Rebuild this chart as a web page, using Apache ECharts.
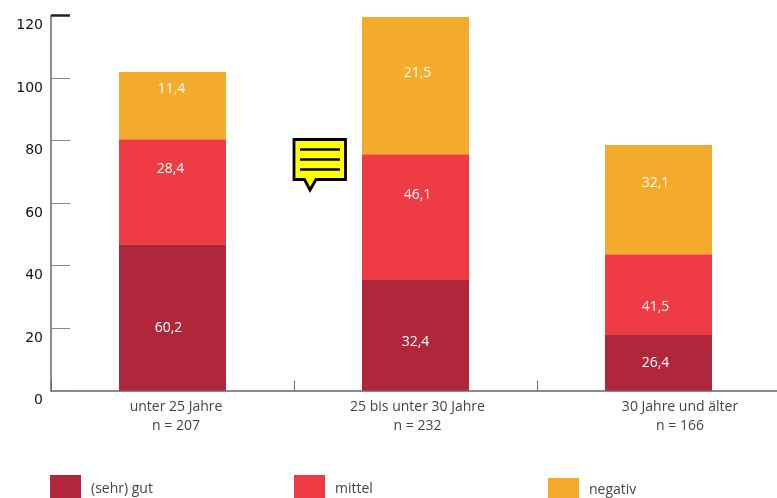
<!DOCTYPE html>
<html>
<head>
<meta charset="utf-8">
<script src="https://cdn.jsdelivr.net/npm/echarts@6/dist/echarts.min.js"></script>
<style>
  html, body { margin: 0; padding: 0; background: #fff; }
  #main { width: 777px; height: 498px; }
</style>
</head>
<body>
<div id="main"></div>
<script>
var categories = ['unter 25 Jahre\nn = 207', '25 bis unter 30 Jahre\nn = 232', '30 Jahre und älter\nn = 166'];
var yTicks = [0, 20, 40, 60, 80, 100, 120];

// bar heights as drawn (they do not agree with the printed numbers in the source)
var gutHeights = [46.9, 35.4, 17.8];
var mittelHeights = [33.6, 40.3, 25.9];
var negativHeights = [21.5, 43.9, 34.9];

// numbers printed on the bars
var gutLabels = ['60,2', '32,4', '26,4'];
var mittelLabels = ['28,4', '46,1', '41,5'];
var negativLabels = ['11,4', '21,5', '32,1'];

// label nudges, px from the segment centre
var gutOffsets = [[-4, 11], [0, 7], [-3, 0]];
var mittelOffsets = [[-2, -23], [2, -22], [-3, 12]];
var negativOffsets = [[-1, -17], [2, -13], [-3, -17]];

var LABEL_FONT = '"Open Sans", "Noto Sans", sans-serif';
var chart = echarts.init(document.getElementById('main'), null, { renderer: 'canvas' });

function barSeries(name, color, heights, labels, offsets) {
  return {
    name: name,
    type: 'bar',
    stack: 'total',
    barWidth: 107,
    itemStyle: { color: color },
    data: heights.map(function (h, i) {
      return {
        value: h,
        label: {
          show: true,
          position: 'inside',
          offset: offsets[i],
          formatter: labels[i],
          color: '#fff',
          fontSize: 14,
          fontFamily: LABEL_FONT
        }
      };
    })
  };
}

function legendItem(name, left, top, h) {
  return {
    data: [name],
    left: left,
    top: top,
    padding: 0,
    icon: 'rect',
    itemWidth: 31,
    itemHeight: h,
    selectedMode: false,
    formatter: '{t|{name}}',
    textStyle: {
      rich: {
        t: { color: '#444', fontSize: 14, fontFamily: LABEL_FONT, padding: [5, 0, 0, 5] }
      }
    }
  };
}

var option = {
  animation: false,
  backgroundColor: '#fff',
  // the category band runs past the right edge of the page, so no containment
  grid: { left: 51, top: 15.7, width: 729, height: 375, outerBoundsMode: 'none' },
  legend: [
    legendItem('(sehr) gut', 50, 475, 23),
    legendItem('mittel', 294, 475, 23),
    legendItem('negativ', 548, 478, 20)
  ],
  xAxis: {
    type: 'category',
    data: categories.map(function (c, i) {
      // third label sits right of its bar in the source
      return { value: c, textStyle: { padding: [0, 0, 0, [7, 4, 43][i]] } };
    }),
    axisLine: { lineStyle: { color: '#666', width: 1.5 } },
    axisTick: { show: true, inside: true, length: 10, lineStyle: { color: '#666', width: 1 } },
    axisLabel: {
      color: '#444',
      fontSize: 14,
      lineHeight: 19,
      margin: 7,
      interval: 0,
      fontFamily: LABEL_FONT
    }
  },
  yAxis: [{
    type: 'value',
    min: 0,
    max: 120,
    interval: 20,
    axisLine: { show: true, lineStyle: { color: '#666', width: 1.5 } },
    axisTick: { show: true, inside: true, length: 19, lineStyle: { color: '#888', width: 1 } },
    splitLine: { show: false },
    axisLabel: {
      color: '#111',
      fontSize: 14,
      margin: 8,
      fontFamily: '"DejaVu Sans", sans-serif',
      verticalAlign: 'top',
      lineHeight: 20,
      formatter: function (v) { return yTicks.indexOf(v) >= 0 ? String(v) : ''; }
    }
  }, {
    // heavy cap at the top of the scale
    type: 'value',
    position: 'left',
    min: 0,
    max: 120,
    interval: 120,
    axisLine: { show: false },
    axisLabel: { show: false },
    splitLine: { show: false },
    axisTick: { show: true, inside: true, length: 19, customValues: [120], lineStyle: { color: '#222', width: 2.5 } }
  }],
  series: [
    barSeries('(sehr) gut', '#b0273c', gutHeights, gutLabels, gutOffsets),
    barSeries('mittel', '#ef3b43', mittelHeights, mittelLabels, mittelOffsets),
    barSeries('negativ', '#f4aa2b', negativHeights, negativLabels, negativOffsets)
  ],
  graphic: [{
    type: 'group',
    silent: true,
    children: [
      {
        type: 'polygon',
        shape: { points: [[294, 139.5], [345.5, 139.5], [345.5, 179.5], [316, 179.5], [310, 190], [304.5, 179.5], [294, 179.5]] },
        style: { fill: '#ffff00', stroke: '#000', lineWidth: 2.8 }
      },
      { type: 'line', shape: { x1: 300, y1: 149.5, x2: 340, y2: 149.5 }, style: { stroke: '#000', lineWidth: 2.6 } },
      { type: 'line', shape: { x1: 300, y1: 159.5, x2: 340, y2: 159.5 }, style: { stroke: '#000', lineWidth: 2.6 } },
      { type: 'line', shape: { x1: 300, y1: 169.5, x2: 340, y2: 169.5 }, style: { stroke: '#000', lineWidth: 2.6 } }
    ]
  }]
};

chart.setOption(option);
</script>
</body>
</html>
